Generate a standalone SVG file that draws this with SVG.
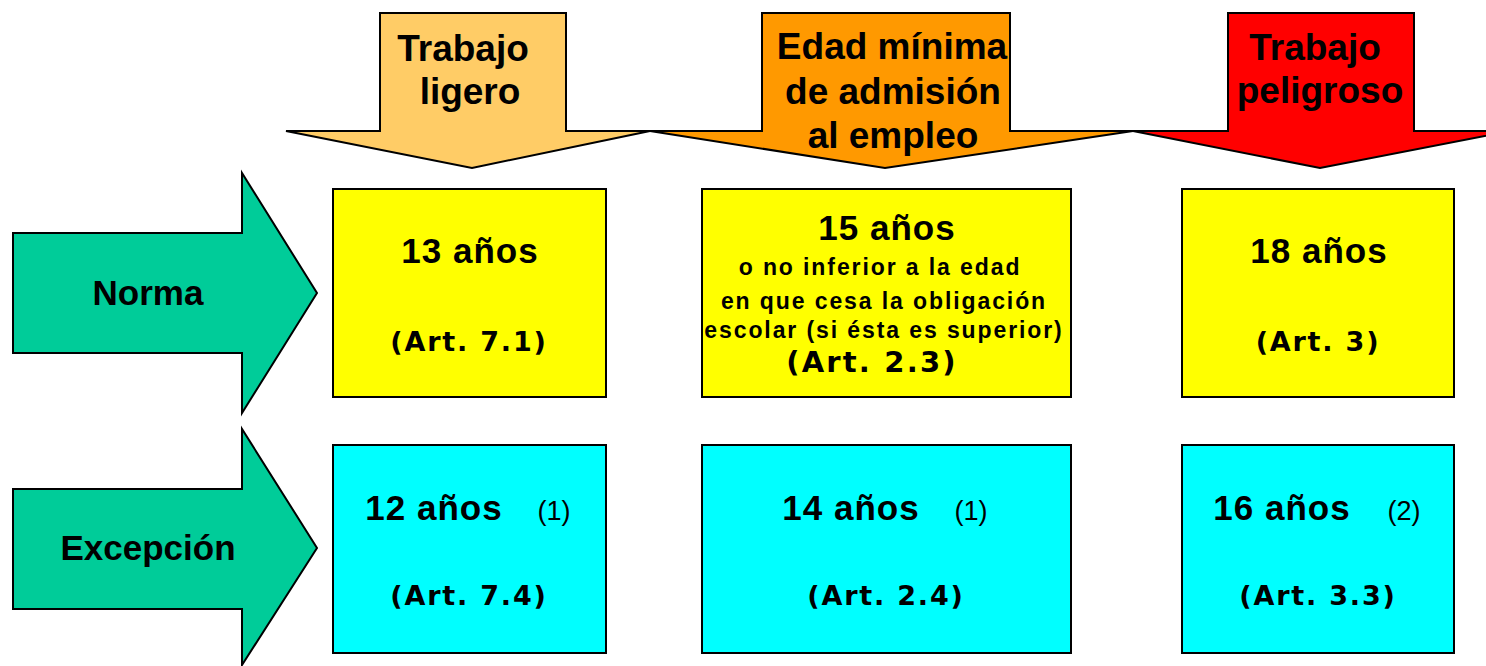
<svg xmlns="http://www.w3.org/2000/svg" width="1486" height="666" viewBox="0 0 1486 666">
<style>
.shape{stroke:#000;stroke-width:2;stroke-linejoin:miter}
.t{font-family:"Liberation Sans",Arial,sans-serif;font-weight:bold;fill:#000;text-anchor:middle}
.h{font-size:37px}
.lab{font-size:35px}
.big{font-size:35px;letter-spacing:1px}
.art{font-family:"DejaVu Sans",Verdana,sans-serif;font-size:27px;letter-spacing:1.8px}
.sm{font-size:23px;letter-spacing:1.9px}
.n{font-family:"Liberation Sans",Arial,sans-serif;font-size:27px;fill:#000;text-anchor:middle}
</style>
<rect width="1486" height="666" fill="#fff"/>
<g id="col-ligero">
<path class="shape" fill="#FFCC66" d="M380,13 H566 V131 H650 L472,168 L286,131 H380 Z"/>
<text class="t h" x="463" y="61">Trabajo</text>
<text class="t h" x="470" y="104">ligero</text>
</g>
<g id="col-edad">
<path class="shape" fill="#FF9900" d="M762,13 H1010 V131 H1133 L885,168 L650,131 H762 Z"/>
<text class="t h" x="892" y="59">Edad mínima</text>
<text class="t h" x="893" y="104">de admisión</text>
<text class="t h" x="893" y="148">al empleo</text>
</g>
<g id="col-peligroso">
<path class="shape" fill="#FF0000" d="M1228,13 H1414 V131 H1510 L1320,168 L1133,131 H1228 Z"/>
<text class="t h" x="1315" y="60">Trabajo</text>
<text class="t h" x="1320" y="103">peligroso</text>
</g>
<g id="row-norma">
<path class="shape" fill="#00CC99" d="M13,233 H242 V173 L317,293 L242,413 V353 H13 Z"/>
<text class="t lab" x="148" y="305">Norma</text>
</g>
<g id="row-excepcion">
<path class="shape" fill="#00CC99" d="M13,489 H242 V429 L317,548 L242,665 V609 H13 Z"/>
<text class="t lab" x="148" y="560">Excepción</text>
</g>
<g id="norma-ligero">
<rect class="shape" fill="#FFFF00" x="333" y="189" width="273" height="208"/>
<text class="t big" x="470" y="263">13 años</text>
<text class="t art" x="469" y="351">(Art. 7.1)</text>
</g>
<g id="norma-edad">
<rect class="shape" fill="#FFFF00" x="702" y="189" width="369" height="208"/>
<text class="t big" x="887" y="240">15 años</text>
<text class="t sm" x="880" y="275">o no inferior a la edad</text>
<text class="t sm" x="884" y="309">en que cesa la obligación</text>
<text class="t sm" x="884" y="338">escolar (si ésta es superior)</text>
<text class="t art" style="font-size:29px;letter-spacing:2.2px" x="872" y="372">(Art. 2.3)</text>
</g>
<g id="norma-peligroso">
<rect class="shape" fill="#FFFF00" x="1182" y="189" width="272" height="208"/>
<text class="t big" x="1319" y="263">18 años</text>
<text class="t art" x="1318" y="351">(Art. 3)</text>
</g>
<g id="excepcion-ligero">
<rect class="shape" fill="#00FFFF" x="333" y="445" width="273" height="208"/>
<text class="t big" x="434" y="520">12 años</text>
<text class="n" x="554" y="520">(1)</text>
<text class="t art" x="469" y="605">(Art. 7.4)</text>
</g>
<g id="excepcion-edad">
<rect class="shape" fill="#00FFFF" x="702" y="445" width="369" height="208"/>
<text class="t big" x="851" y="520">14 años</text>
<text class="n" x="971" y="520">(1)</text>
<text class="t art" x="886" y="605">(Art. 2.4)</text>
</g>
<g id="excepcion-peligroso">
<rect class="shape" fill="#00FFFF" x="1182" y="445" width="272" height="208"/>
<text class="t big" x="1282" y="520">16 años</text>
<text class="n" x="1404" y="520">(2)</text>
<text class="t art" x="1318" y="605">(Art. 3.3)</text>
</g>
<g id="connectors"></g>
</svg>
